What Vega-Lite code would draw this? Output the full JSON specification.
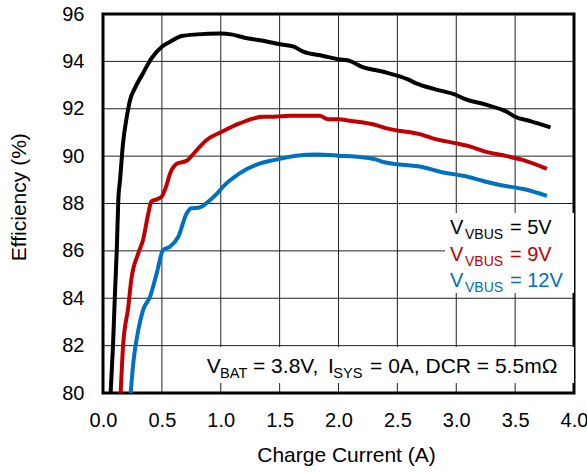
{
  "$schema": "https://vega.github.io/schema/vega-lite/v6.json",
  "width": 471,
  "height": 379,
  "autosize": {"type": "none"},
  "padding": {"left": 103, "top": 14, "right": 13, "bottom": 79},
  "background": "white",
  "config": {
    "view": {"stroke": "black", "strokeWidth": 3},
    "font": "Liberation Sans",
    "axis": {
      "grid": false, "domain": false, "tickSize": 0, "labelFlush": false,
      "labelFont": "Liberation Sans", "labelFontSize": 20, "labelColor": "black",
      "titleFont": "Liberation Sans", "titleFontSize": 21, "titleFontWeight": "normal", "titleColor": "black"
    }
  },
  "datasets": {
    "grid": [
      {"gid": "x0.5", "gx": 0.5, "gy": 80}, {"gid": "x0.5", "gx": 0.5, "gy": 96},
      {"gid": "x1.0", "gx": 1.0, "gy": 80}, {"gid": "x1.0", "gx": 1.0, "gy": 96},
      {"gid": "x1.5", "gx": 1.5, "gy": 80}, {"gid": "x1.5", "gx": 1.5, "gy": 96},
      {"gid": "x2.0", "gx": 2.0, "gy": 80}, {"gid": "x2.0", "gx": 2.0, "gy": 96},
      {"gid": "x2.5", "gx": 2.5, "gy": 80}, {"gid": "x2.5", "gx": 2.5, "gy": 96},
      {"gid": "x3.0", "gx": 3.0, "gy": 80}, {"gid": "x3.0", "gx": 3.0, "gy": 96},
      {"gid": "x3.5", "gx": 3.5, "gy": 80}, {"gid": "x3.5", "gx": 3.5, "gy": 96},
      {"gid": "y82", "gx": 0, "gy": 82}, {"gid": "y82", "gx": 4, "gy": 82},
      {"gid": "y84", "gx": 0, "gy": 84}, {"gid": "y84", "gx": 4, "gy": 84},
      {"gid": "y86", "gx": 0, "gy": 86}, {"gid": "y86", "gx": 4, "gy": 86},
      {"gid": "y88", "gx": 0, "gy": 88}, {"gid": "y88", "gx": 4, "gy": 88},
      {"gid": "y90", "gx": 0, "gy": 90}, {"gid": "y90", "gx": 4, "gy": 90},
      {"gid": "y92", "gx": 0, "gy": 92}, {"gid": "y92", "gx": 4, "gy": 92},
      {"gid": "y94", "gx": 0, "gy": 94}, {"gid": "y94", "gx": 4, "gy": 94}
    ],
    "curves": [
      {"I": 0.065, "eff": 80, "vbus": "5V"}, {"I": 0.085, "eff": 82, "vbus": "5V"}, {"I": 0.1, "eff": 84, "vbus": "5V"},
      {"I": 0.118, "eff": 86.2, "vbus": "5V"}, {"I": 0.13, "eff": 88.15, "vbus": "5V"}, {"I": 0.145, "eff": 89.0, "vbus": "5V"},
      {"I": 0.17, "eff": 90.54, "vbus": "5V"}, {"I": 0.2, "eff": 91.6, "vbus": "5V"}, {"I": 0.23, "eff": 92.37, "vbus": "5V"},
      {"I": 0.27, "eff": 92.86, "vbus": "5V"}, {"I": 0.34, "eff": 93.5, "vbus": "5V"}, {"I": 0.41, "eff": 94.12, "vbus": "5V"},
      {"I": 0.5, "eff": 94.62, "vbus": "5V"}, {"I": 0.57, "eff": 94.83, "vbus": "5V"}, {"I": 0.67, "eff": 95.07, "vbus": "5V"},
      {"I": 0.8, "eff": 95.14, "vbus": "5V"}, {"I": 0.99, "eff": 95.18, "vbus": "5V"}, {"I": 1.1, "eff": 95.13, "vbus": "5V"},
      {"I": 1.2, "eff": 95.0, "vbus": "5V"}, {"I": 1.36, "eff": 94.87, "vbus": "5V"}, {"I": 1.5, "eff": 94.72, "vbus": "5V"},
      {"I": 1.62, "eff": 94.62, "vbus": "5V"}, {"I": 1.7, "eff": 94.41, "vbus": "5V"}, {"I": 1.87, "eff": 94.23, "vbus": "5V"},
      {"I": 2.0, "eff": 94.09, "vbus": "5V"}, {"I": 2.1, "eff": 94.01, "vbus": "5V"}, {"I": 2.2, "eff": 93.77, "vbus": "5V"},
      {"I": 2.38, "eff": 93.56, "vbus": "5V"}, {"I": 2.59, "eff": 93.24, "vbus": "5V"}, {"I": 2.66, "eff": 93.07, "vbus": "5V"},
      {"I": 2.83, "eff": 92.81, "vbus": "5V"}, {"I": 3.0, "eff": 92.58, "vbus": "5V"}, {"I": 3.06, "eff": 92.44, "vbus": "5V"},
      {"I": 3.26, "eff": 92.16, "vbus": "5V"}, {"I": 3.43, "eff": 91.87, "vbus": "5V"}, {"I": 3.5, "eff": 91.66, "vbus": "5V"},
      {"I": 3.63, "eff": 91.48, "vbus": "5V"}, {"I": 3.8, "eff": 91.21, "vbus": "5V"},

      {"I": 0.15, "eff": 80, "vbus": "9V"}, {"I": 0.17, "eff": 81.95, "vbus": "9V"}, {"I": 0.215, "eff": 83.64, "vbus": "9V"},
      {"I": 0.24, "eff": 84.77, "vbus": "9V"}, {"I": 0.3, "eff": 85.9, "vbus": "9V"}, {"I": 0.34, "eff": 86.46, "vbus": "9V"},
      {"I": 0.385, "eff": 87.58, "vbus": "9V"}, {"I": 0.41, "eff": 88.08, "vbus": "9V"}, {"I": 0.46, "eff": 88.18, "vbus": "9V"},
      {"I": 0.5, "eff": 88.3, "vbus": "9V"}, {"I": 0.535, "eff": 88.7, "vbus": "9V"}, {"I": 0.57, "eff": 89.27, "vbus": "9V"},
      {"I": 0.63, "eff": 89.69, "vbus": "9V"}, {"I": 0.71, "eff": 89.8, "vbus": "9V"}, {"I": 0.77, "eff": 90.11, "vbus": "9V"},
      {"I": 0.88, "eff": 90.68, "vbus": "9V"}, {"I": 1.01, "eff": 91.03, "vbus": "9V"}, {"I": 1.16, "eff": 91.38, "vbus": "9V"},
      {"I": 1.36, "eff": 91.66, "vbus": "9V"}, {"I": 1.45, "eff": 91.66, "vbus": "9V"}, {"I": 1.59, "eff": 91.7, "vbus": "9V"},
      {"I": 1.84, "eff": 91.7, "vbus": "9V"}, {"I": 1.91, "eff": 91.56, "vbus": "9V"}, {"I": 2.0, "eff": 91.56, "vbus": "9V"},
      {"I": 2.1, "eff": 91.49, "vbus": "9V"}, {"I": 2.32, "eff": 91.31, "vbus": "9V"}, {"I": 2.41, "eff": 91.17, "vbus": "9V"},
      {"I": 2.72, "eff": 90.89, "vbus": "9V"}, {"I": 2.8, "eff": 90.75, "vbus": "9V"}, {"I": 3.0, "eff": 90.54, "vbus": "9V"},
      {"I": 3.12, "eff": 90.4, "vbus": "9V"}, {"I": 3.23, "eff": 90.21, "vbus": "9V"}, {"I": 3.43, "eff": 90.0, "vbus": "9V"},
      {"I": 3.57, "eff": 89.83, "vbus": "9V"}, {"I": 3.77, "eff": 89.46, "vbus": "9V"},

      {"I": 0.235, "eff": 80, "vbus": "12V"}, {"I": 0.26, "eff": 81.39, "vbus": "12V"}, {"I": 0.3, "eff": 82.66, "vbus": "12V"},
      {"I": 0.34, "eff": 83.5, "vbus": "12V"}, {"I": 0.4, "eff": 84.07, "vbus": "12V"}, {"I": 0.456, "eff": 85.05, "vbus": "12V"},
      {"I": 0.51, "eff": 86.04, "vbus": "12V"}, {"I": 0.57, "eff": 86.18, "vbus": "12V"}, {"I": 0.64, "eff": 86.6, "vbus": "12V"},
      {"I": 0.71, "eff": 87.58, "vbus": "12V"}, {"I": 0.75, "eff": 87.8, "vbus": "12V"}, {"I": 0.82, "eff": 87.83, "vbus": "12V"},
      {"I": 0.91, "eff": 88.15, "vbus": "12V"}, {"I": 0.97, "eff": 88.43, "vbus": "12V"}, {"I": 1.02, "eff": 88.71, "vbus": "12V"},
      {"I": 1.16, "eff": 89.27, "vbus": "12V"}, {"I": 1.36, "eff": 89.73, "vbus": "12V"}, {"I": 1.45, "eff": 89.83, "vbus": "12V"},
      {"I": 1.64, "eff": 90.02, "vbus": "12V"}, {"I": 1.81, "eff": 90.07, "vbus": "12V"}, {"I": 2.0, "eff": 90.02, "vbus": "12V"},
      {"I": 2.3, "eff": 89.88, "vbus": "12V"}, {"I": 2.39, "eff": 89.74, "vbus": "12V"}, {"I": 2.72, "eff": 89.53, "vbus": "12V"},
      {"I": 2.89, "eff": 89.31, "vbus": "12V"}, {"I": 3.06, "eff": 89.17, "vbus": "12V"}, {"I": 3.23, "eff": 88.95, "vbus": "12V"},
      {"I": 3.37, "eff": 88.78, "vbus": "12V"}, {"I": 3.57, "eff": 88.61, "vbus": "12V"}, {"I": 3.77, "eff": 88.32, "vbus": "12V"}
    ],
    "boxes": [
      {"bx1": 2.904, "bx2": 4.0, "by1": 84.22, "by2": 87.6},
      {"bx1": 0.81, "bx2": 4.0, "by1": 80.42, "by2": 81.94}
    ],
    "legendMain": [
      {"x": 2.947, "y": 86.71, "t": "V", "vbus": "5V"},
      {"x": 3.456, "y": 86.71, "t": "= 5V", "vbus": "5V"},
      {"x": 2.947, "y": 85.585, "t": "V", "vbus": "9V"},
      {"x": 3.456, "y": 85.585, "t": "= 9V", "vbus": "9V"},
      {"x": 2.947, "y": 84.487, "t": "V", "vbus": "12V"},
      {"x": 3.456, "y": 84.487, "t": "= 12V", "vbus": "12V"}
    ],
    "legendSub": [
      {"x": 3.074, "y": 86.71, "t": "VBUS", "vbus": "5V"},
      {"x": 3.074, "y": 85.585, "t": "VBUS", "vbus": "9V"},
      {"x": 3.074, "y": 84.487, "t": "VBUS", "vbus": "12V"}
    ],
    "noteMain": [
      {"x": 0.881, "y": 80.844, "t": "V"},
      {"x": 1.274, "y": 80.844, "t": "= 3.8V,"},
      {"x": 1.91, "y": 80.844, "t": "I"},
      {"x": 2.268, "y": 80.844, "t": "= 0A, DCR = 5.5mΩ"}
    ],
    "noteSub": [
      {"x": 0.994, "y": 80.844, "t": "BAT"},
      {"x": 1.955, "y": 80.844, "t": "SYS"}
    ]
  },
  "layer": [
    {
      "data": {"name": "grid"},
      "mark": {"type": "line", "color": "#222222", "strokeWidth": 1},
      "encoding": {
        "x": {"field": "gx", "type": "quantitative", "scale": {"domain": [0, 4], "nice": false},
              "axis": {"values": [0, 0.5, 1, 1.5, 2, 2.5, 3, 3.5, 4], "format": ".1f", "labelPadding": 17, "labelFlush": false,
                       "title": "Charge Current (A)", "titleX": 243, "titleY": 68.7, "titleBaseline": "alphabetic", "titleAlign": "center"}},
        "y": {"field": "gy", "type": "quantitative", "scale": {"domain": [80, 96], "nice": false},
              "axis": {"values": [80, 82, 84, 86, 88, 90, 92, 94, 96], "labelPadding": 19, "labelFlush": false,
                       "title": "Efficiency (%)", "titleX": -78, "titleY": 182.7, "titleBaseline": "alphabetic", "titleAlign": "center", "titleAngle": -90}},
        "detail": {"field": "gid"}
      }
    },
    {
      "data": {"name": "boxes"},
      "mark": {"type": "rect", "color": "white", "opacity": 1},
      "encoding": {
        "x": {"field": "bx1", "type": "quantitative"},
        "x2": {"field": "bx2"},
        "y": {"field": "by1", "type": "quantitative"},
        "y2": {"field": "by2"}
      }
    },
    {
      "data": {"name": "curves"},
      "mark": {"type": "line", "strokeWidth": 4, "interpolate": "monotone", "clip": true},
      "encoding": {
        "x": {"field": "I", "type": "quantitative"},
        "y": {"field": "eff", "type": "quantitative"},
        "color": {"field": "vbus", "type": "nominal", "scale": {"domain": ["5V", "9V", "12V"], "range": ["#000000", "#c00000", "#0070c0"]}, "legend": null},
        "detail": {"field": "vbus"}
      }
    },
    {
      "data": {"name": "legendMain"},
      "mark": {"type": "text", "align": "left", "baseline": "alphabetic", "fontSize": 20, "font": "Liberation Sans"},
      "encoding": {
        "x": {"field": "x", "type": "quantitative"},
        "y": {"field": "y", "type": "quantitative"},
        "text": {"field": "t"},
        "color": {"field": "vbus", "type": "nominal", "legend": null}
      }
    },
    {
      "data": {"name": "legendSub"},
      "mark": {"type": "text", "align": "left", "baseline": "alphabetic", "fontSize": 14, "dy": 5, "font": "Liberation Sans"},
      "encoding": {
        "x": {"field": "x", "type": "quantitative"},
        "y": {"field": "y", "type": "quantitative"},
        "text": {"field": "t"},
        "color": {"field": "vbus", "type": "nominal", "legend": null}
      }
    },
    {
      "data": {"name": "noteMain"},
      "mark": {"type": "text", "align": "left", "baseline": "alphabetic", "fontSize": 21, "color": "black", "font": "Liberation Sans"},
      "encoding": {
        "x": {"field": "x", "type": "quantitative"},
        "y": {"field": "y", "type": "quantitative"},
        "text": {"field": "t"}
      }
    },
    {
      "data": {"name": "noteSub"},
      "mark": {"type": "text", "align": "left", "baseline": "alphabetic", "fontSize": 14.6, "dy": 5, "color": "black", "font": "Liberation Sans"},
      "encoding": {
        "x": {"field": "x", "type": "quantitative"},
        "y": {"field": "y", "type": "quantitative"},
        "text": {"field": "t"}
      }
    }
  ]
}
